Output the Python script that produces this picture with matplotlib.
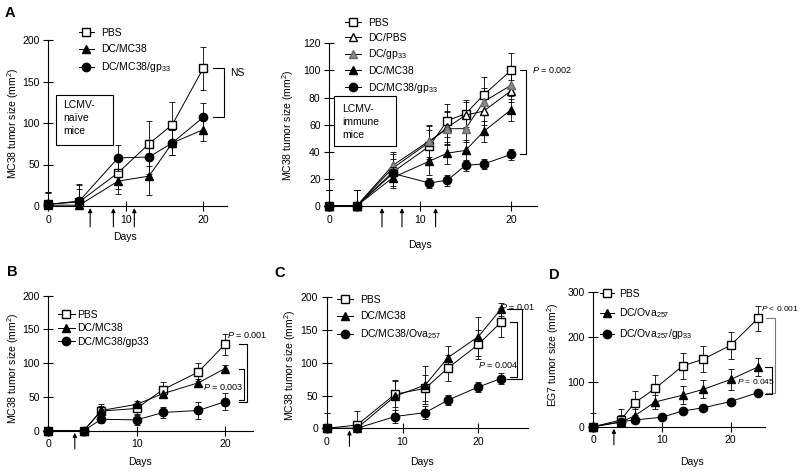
import matplotlib
matplotlib.use("Agg")
import matplotlib.pyplot as plt
from matplotlib.lines import Line2D
from matplotlib.patches import Rectangle

plt.rcParams['font.family'] = ['Liberation Sans', 'DejaVu Sans']
plt.rcParams['mathtext.fontset'] = 'custom'
plt.rcParams['mathtext.rm'] = 'Liberation Sans'
plt.rcParams['mathtext.it'] = 'Liberation Sans:italic'

# ---- data ----
# A, LCMV-naive mice
a1_days = [0, 4, 9, 13, 16, 20]
a1_pbs = [2, 5, 40, 75, 98, 166]
a1_pbs_err = [15, 20, 20, 27, 27, 26]
a1_dcmc38 = [1, 1, 30, 36, 76, 92]
a1_dcmc38_err = [15, 20, 15, 23, 15, 14]
a1_dcmc38gp = [2, 6, 58, 59, 76, 107]
a1_dcmc38gp_err = [15, 20, 16, 20, 15, 17]
a1_injections = [5.4, 8.4, 11.1]

# A, LCMV-immune mice
a2_days = [0, 3, 7, 11, 13, 15, 17, 20]
a2_pbs = [0, 0, 25, 44, 63, 68, 82, 100]
a2_pbs_err = [12, 12, 10, 12, 12, 10, 13, 13]
a2_dcpbs = [0, 0, 28, 47, 58, 67, 70, 85]
a2_dcpbs_err = [12, 12, 10, 12, 12, 10, 10, 8]
a2_dcgp = [0, 0, 30, 48, 57, 57, 77, 89]
a2_dcgp_err = [12, 12, 10, 12, 12, 10, 10, 8]
a2_dcmc38 = [0, 0, 21, 33, 39, 41, 55, 71]
a2_dcmc38_err = [12, 12, 8, 10, 8, 8, 8, 8]
a2_dcmc38gp = [0, 0, 24, 17, 19, 30, 31, 38]
a2_dcmc38gp_err = [12, 12, 5, 4, 4, 4, 4, 4]
a2_injections = [5.8, 8.0, 11.7]

# B
b_days = [0, 4, 6, 10, 13, 17, 20]
b_pbs = [0, 0, 29, 33, 61, 87, 128]
b_pbs_err = [0, 0, 10, 8, 11, 14, 16]
b_dcmc38 = [0, 0, 30, 39, 55, 71, 92]
b_dcmc38_err = [0, 0, 6, 5, 5, 5, 5]
b_dcmc38gp = [0, 0, 17, 16, 27, 30, 43]
b_dcmc38gp_err = [0, 0, 5, 8, 8, 12, 13]
b_injections = [3]

# C
c_days = [0, 4, 9, 13, 16, 20, 23]
c_pbs = [0, 5, 52, 61, 92, 128, 162]
c_pbs_err = [23, 22, 20, 20, 20, 22, 22]
c_dcmc38 = [0, 0, 49, 66, 108, 140, 182]
c_dcmc38_err = [23, 10, 25, 29, 18, 30, 10]
c_dcmc38ova = [0, 0, 18, 24, 43, 63, 76]
c_dcmc38ova_err = [0, 0, 10, 10, 8, 8, 8]
c_injections = [3]

# D
d_days = [0, 4, 6, 9, 13, 16, 20, 24]
d_gp_days = [0, 4, 6, 10, 13, 16, 20, 24]
d_pbs = [0, 15, 53, 85, 135, 150, 181, 241]
d_pbs_err = [30, 25, 26, 31, 28, 29, 30, 28]
d_dcova = [0, 10, 24, 55, 70, 83, 105, 133]
d_dcova_err = [0, 15, 15, 15, 20, 20, 24, 20]
d_dcovagp = [0, 11, 15, 21, 35, 42, 56, 76]
d_dcovagp_err = [0, 5, 5, 5, 5, 5, 5, 5]
d_injections = [3]

W, H = 800, 472
FS = 7.5


def fx(px):
    return px / W


def fy(py):
    return 1 - py / H


fig = plt.figure(figsize=(W / 100, H / 100), dpi=100)

STYLES = {
    'square': dict(marker='s', mfc='white', mec='black', ms=5.2),
    'tri': dict(marker='^', mfc='black', mec='black', ms=5.5),
    'tri_open': dict(marker='^', mfc='white', mec='black', ms=5.5),
    'tri_grey': dict(marker='^', mfc='#8a8a8a', mec='#6a6a6a', ms=5.5),
    'circle': dict(marker='o', mfc='black', mec='black', ms=6),
}


def make_axes(x0, xs, y0, ys, xlim, ylim, xend, yticks):
    left = x0 + xlim[0] * xs
    right = x0 + xlim[1] * xs
    bot = y0 - ylim[0] * ys
    top = y0 - ylim[1] * ys
    ax = fig.add_axes([fx(left), fy(bot), (right - left) / W, (bot - top) / H])
    ax.set_xlim(xlim)
    ax.set_ylim(ylim)
    ax.patch.set_visible(False)
    for s in ['top', 'right']:
        ax.spines[s].set_visible(False)
    ax.spines['left'].set_position(('data', 0))
    ax.spines['bottom'].set_position(('data', 0))
    ax.spines['left'].set_bounds(0, yticks[-1])
    ax.spines['bottom'].set_bounds(-0.6, xend)
    for s in ['left', 'bottom']:
        ax.spines[s].set_linewidth(0.8)
    ax.set_xticks([0, 10, 20])
    ax.set_yticks(yticks)
    ax.tick_params(direction='inout', length=6.5, width=0.8, labelsize=FS, pad=3)
    return ax


def series(ax, days, vals, errs, style, z=3):
    lo = [min(e, v) for e, v in zip(errs, vals)]
    ax.errorbar(days, vals, yerr=[lo, errs], color='black', lw=0.7,
                elinewidth=0.6, capsize=2, capthick=0.6, clip_on=False,
                zorder=z, **STYLES[style])


def arrows(ax, days, length=15):
    for d in days:
        ax.annotate('', xy=(d, 0), xytext=(0, -length), textcoords='offset points',
                    arrowprops=dict(arrowstyle='-|>', color='black', lw=0.8,
                                    mutation_scale=6, shrinkA=0, shrinkB=1.5),
                    annotation_clip=False)


def bracket(ax, y_top, y_bot, x0, x1, color='black'):
    ax.plot([x0, x1, x1, x0], [y_top, y_top, y_bot, y_bot], color=color,
            lw=0.8, clip_on=False)


def legend(ax, labels, styles, left_px, top_px, spacing, handlelen=1.4, textpad=0.7):
    handles = [Line2D([], [], color='black', lw=0.7, **STYLES[s]) for s in styles]
    ax.legend(handles, labels, loc='upper left', bbox_to_anchor=(fx(left_px), fy(top_px)),
              bbox_transform=fig.transFigure, frameon=False, fontsize=FS,
              borderpad=0, borderaxespad=0, labelspacing=spacing,
              handlelength=handlelen, handletextpad=textpad)


def label_box(lines, x0, y0, x1, y1, tx, ty):
    fig.patches.append(Rectangle((fx(x0), fy(y1)), (x1 - x0) / W, (y1 - y0) / H,
                                 transform=fig.transFigure, fill=False, lw=0.8,
                                 edgecolor='black'))
    fig.text(fx(tx), fy(ty), lines, ha='left', va='top', fontsize=FS, linespacing=1.35)


# ---- Panel A, naive ----
ax = make_axes(48.3, 7.75, 206, 0.83, (-1.5, 25), (-12, 210), 23.1, [0, 50, 100, 150, 200])
series(ax, a1_days, a1_pbs, a1_pbs_err, 'square')
series(ax, a1_days, a1_dcmc38, a1_dcmc38_err, 'tri')
series(ax, a1_days, a1_dcmc38gp, a1_dcmc38gp_err, 'circle', z=4)
arrows(ax, a1_injections)
bracket(ax, a1_pbs[-1], a1_dcmc38gp[-1], 21.2, 22.7)
ax.text(23.4, a1_pbs[-1] - 6, 'NS', fontsize=FS, va='center')
legend(ax, ['PBS', 'DC/MC38', 'DC/MC38/gp$_{33}$'], ['square', 'tri', 'circle'], 79, 28, 0.6)
label_box('LCMV-\nnaïve\nmice', 56, 95, 113, 145, 63, 100)
fig.text(fx(13), fy(123), 'MC38 tumor size (mm$^2$)', rotation=90, ha='center', va='center', fontsize=FS)
fig.text(fx(125), fy(237), 'Days', ha='center', va='center', fontsize=FS)
fig.text(fx(10), fy(13), 'A', ha='center', va='center', fontsize=10.5, fontweight='bold')

# ---- Panel A, immune ----
ax = make_axes(329.3, 9.085, 206, 1.356, (-1.5, 25), (-8, 125), 22.9, [0, 20, 40, 60, 80, 100, 120])
series(ax, a2_days, a2_pbs, a2_pbs_err, 'square')
series(ax, a2_days, a2_dcpbs, a2_dcpbs_err, 'tri_open')
series(ax, a2_days, a2_dcgp, a2_dcgp_err, 'tri_grey')
series(ax, a2_days, a2_dcmc38, a2_dcmc38_err, 'tri')
series(ax, a2_days, a2_dcmc38gp, a2_dcmc38gp_err, 'circle', z=4)
arrows(ax, a2_injections)
bracket(ax, a2_pbs[-1], a2_dcmc38gp[-1], 21.0, 21.7)
ax.text(22.3, a2_pbs[-1], '$P$ = 0.002', fontsize=6.5, va='center')
legend(ax, ['PBS', 'DC/PBS', 'DC/gp$_{33}$', 'DC/MC38', 'DC/MC38/gp$_{33}$'],
       ['square', 'tri_open', 'tri_grey', 'tri', 'circle'], 345, 18, 0.45, 1.5, 0.7)
label_box('LCMV-\nimmune\nmice', 334, 96, 396, 146, 342, 104)
fig.text(fx(288), fy(125), 'MC38 tumor size (mm$^2$)', rotation=90, ha='center', va='center', fontsize=FS)
fig.text(fx(420), fy(245), 'Days', ha='center', va='center', fontsize=FS)

# ---- Panel B ----
ax = make_axes(48.3, 8.83, 430.7, 0.675, (-1.5, 25), (-15, 210), 23.2, [0, 50, 100, 150, 200])
series(ax, b_days, b_pbs, b_pbs_err, 'square')
series(ax, b_days, b_dcmc38, b_dcmc38_err, 'tri')
series(ax, b_days, b_dcmc38gp, b_dcmc38gp_err, 'circle', z=4)
arrows(ax, b_injections, 13)
bracket(ax, b_pbs[-1], b_dcmc38gp[-1], 21.6, 22.5)
bracket(ax, b_dcmc38[-1], b_dcmc38gp[-1] + 2, 21.6, 22.2)
ax.text(20.2, 142, '$P$ = 0.001', fontsize=6.5, va='center')
ax.text(17.5, 65, '$P$ = 0.003', fontsize=6.5, va='center')
legend(ax, ['PBS', 'DC/MC38', 'DC/MC38/gp33'], ['square', 'tri', 'circle'], 58, 310, 0.33, 1.6, 0.2)
fig.text(fx(13), fy(368), 'MC38 tumor size (mm$^2$)', rotation=90, ha='center', va='center', fontsize=FS)
fig.text(fx(140), fy(462), 'Days', ha='center', va='center', fontsize=FS)
fig.text(fx(12), fy(272), 'B', ha='center', va='center', fontsize=10.5, fontweight='bold')

# ---- Panel C ----
ax = make_axes(326.7, 7.58, 428.3, 0.655, (-1.5, 27), (-15, 210), 26.5, [0, 50, 100, 150, 200])
series(ax, c_days, c_pbs, c_pbs_err, 'square')
series(ax, c_days, c_dcmc38, c_dcmc38_err, 'tri')
series(ax, c_days, c_dcmc38ova, c_dcmc38ova_err, 'circle', z=4)
arrows(ax, c_injections, 13)
bracket(ax, c_dcmc38[-1], c_dcmc38ova[-1], 23.75, 25.7)
bracket(ax, c_pbs[-1], c_dcmc38ova[-1] + 2, 24.2, 25.1)
ax.text(22.9, 185, '$P$ = 0.01', fontsize=6.5, va='center')
ax.text(20.0, 97, '$P$ = 0.004', fontsize=6.5, va='center')
legend(ax, ['PBS', 'DC/MC38', 'DC/MC38/Ova$_{257}$'], ['square', 'tri', 'circle'], 337, 295, 0.6, 1.5, 0.7)
fig.text(fx(290), fy(365), 'MC38 tumor size (mm$^2$)', rotation=90, ha='center', va='center', fontsize=FS)
fig.text(fx(422), fy(462), 'Days', ha='center', va='center', fontsize=FS)
fig.text(fx(280), fy(273), 'C', ha='center', va='center', fontsize=10.5, fontweight='bold')

# ---- Panel D ----
ax = make_axes(593.3, 6.87, 426.7, 0.45, (-1.5, 28), (-20, 310), 25, [0, 100, 200, 300])
series(ax, d_days, d_pbs, d_pbs_err, 'square')
series(ax, d_days, d_dcova, d_dcova_err, 'tri')
series(ax, d_gp_days, d_dcovagp, d_dcovagp_err, 'circle', z=4)
arrows(ax, d_injections, 13)
bracket(ax, d_pbs[-1], d_dcovagp[-1], 25.2, 26.4, color='#777777')
bracket(ax, d_dcova[-1], d_dcovagp[-1] - 3, 25.0, 26.0)
ax.text(24.4, 262, '$P$ < 0.001', fontsize=6, va='center')
ax.text(20.9, 100, '$P$ = 0.045', fontsize=6, va='center')
legend(ax, ['PBS', 'DC/Ova$_{257}$', 'DC/Ova$_{257}$/gp$_{33}$'], ['square', 'tri', 'circle'], 600, 289, 0.7, 1.3, 0.5)
fig.text(fx(553), fy(355), 'EG7 tumor size (mm$^2$)', rotation=90, ha='center', va='center', fontsize=FS)
fig.text(fx(692), fy(462), 'Days', ha='center', va='center', fontsize=FS)
fig.text(fx(554), fy(275), 'D', ha='center', va='center', fontsize=10.5, fontweight='bold')

fig.savefig('out.png', dpi=100)
